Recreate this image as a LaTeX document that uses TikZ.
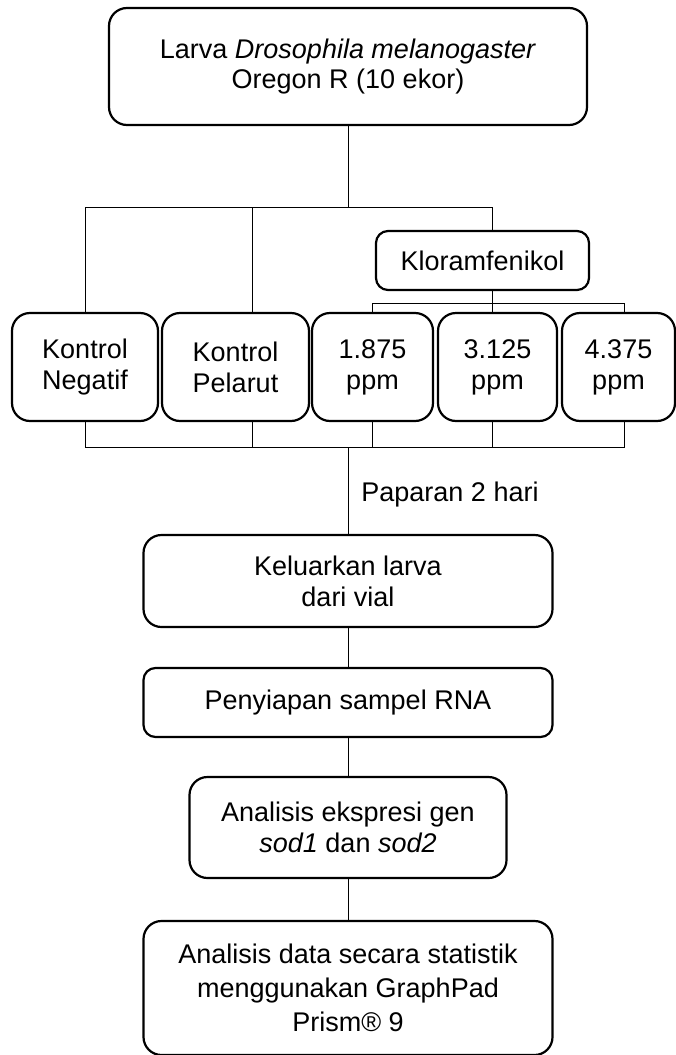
\documentclass[tikz,border=0pt]{standalone}
\usepackage{fontspec}
\setmainfont{Liberation Sans}
\begin{document}
\begin{tikzpicture}[x=1pt,y=-1pt,
  box/.style={draw,line width=2.2pt,rounded corners=18pt,align=center,inner sep=0pt,
    font=\fontsize{27}{31}\selectfont},
  sbox/.style={box,rounded corners=12pt},
  conn/.style={line width=1pt},
  lbl/.style={inner sep=0pt,font=\fontsize{27}{31}\selectfont}]
\useasboundingbox (0,0) rectangle (676,1055);
% nodes
\node[box,minimum width=478pt,minimum height=117pt,font=\fontsize{27}{30}\selectfont] (top) at (348,66.5)
  {Larva \textit{Drosophila melanogaster}\\Oregon R (10 ekor)};
\node[sbox,minimum width=213pt,minimum height=59pt] (klor) at (482.5,260.5) {Kloramfenikol};
\node[box,minimum width=146pt,minimum height=108pt] (neg) at (85,367) {Kontrol\\Negatif};
\node[box,minimum width=147pt,minimum height=108pt] (pel) at (235.5,367) {Kontrol\\Pelarut};
\node[box,minimum width=121pt,minimum height=108pt] (c1) at (372.5,367) {1.875\\ppm};
\node[box,minimum width=119pt,minimum height=108pt] (c2) at (497.5,367) {3.125\\ppm};
\node[box,minimum width=113pt,minimum height=108pt] (c3) at (618.5,367) {4.375\\ppm};
\node[lbl] (pap) at (450,495) {Paparan 2 hari};
\node[box,minimum width=409pt,minimum height=92pt] (kel) at (348,581) {Keluarkan larva\\dari vial};
\node[sbox,minimum width=409pt,minimum height=69pt] (pen) at (348,702.5) {Penyiapan sampel RNA};
\node[box,minimum width=317pt,minimum height=101pt] (ana) at (348,827.5)
  {Analisis ekspresi gen\\\textit{sod1} dan \textit{sod2}};
\node[box,minimum width=409pt,minimum height=134pt,font=\fontsize{27}{34}\selectfont] (stat) at (348,988)
  {Analisis data secara statistik\\menggunakan GraphPad\\Prism\textregistered{} 9};
% coordinates
\coordinate (s) at (348,207);
\coordinate (jpel) at (252,207);
\coordinate (jklo) at (492,207);
\coordinate (k) at (492,303);
\coordinate (k3) at (624,303);
\coordinate (m) at (348,447);
\coordinate (mp) at (252,447);
\coordinate (m2) at (492,447);
\coordinate (m3) at (624,447);
% connectors top
\draw[conn] (top) -- (s);
\draw[conn] (neg.north) |- (jklo) -- (jklo |- klor.north);
\draw[conn] (jpel) -- (jpel |- pel.north);
\draw[conn] (klor.south -| k) -- (k |- c2.north);
\draw[conn] (c1.north) |- (k3) -- (k3 |- c3.north);
% connectors bottom
\draw[conn] (neg.south) |- (m3) -- (m3 |- c3.south);
\draw[conn] (mp |- pel.south) -- (mp);
\draw[conn] (c1.south) -- (c1.south |- m);
\draw[conn] (m2 |- c2.south) -- (m2);
\draw[conn] (m) -- (kel);
\draw[conn] (kel) -- (pen);
\draw[conn] (pen) -- (ana);
\draw[conn] (ana) -- (stat);
\end{tikzpicture}
\end{document}
